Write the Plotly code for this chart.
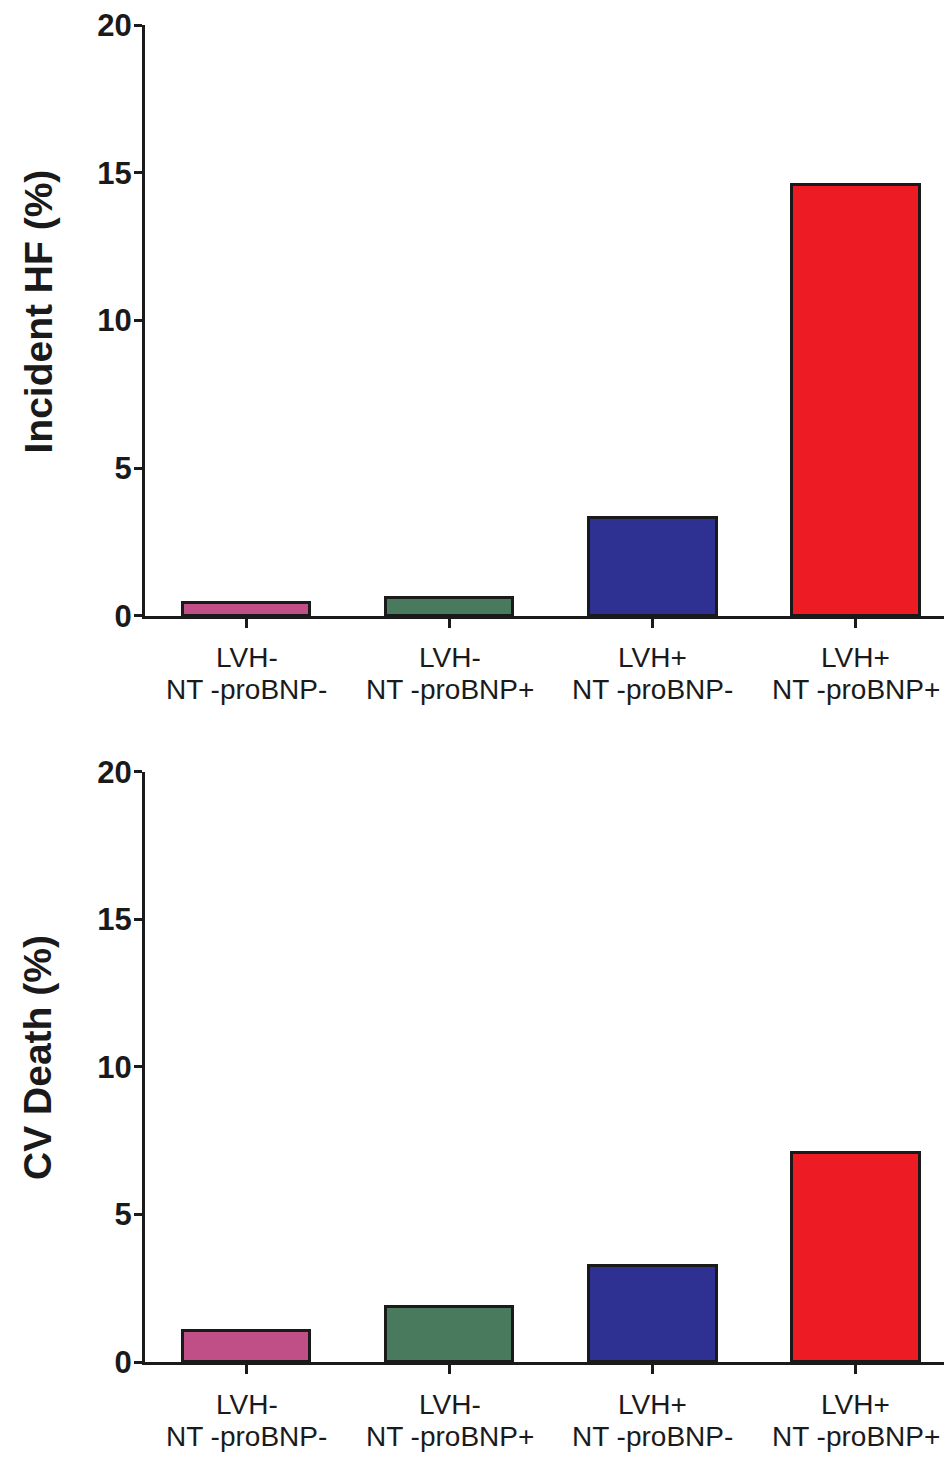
import plotly.graph_objects as go
from plotly.subplots import make_subplots

line1 = ["LVH-", "LVH-", "LVH+", "LVH+"]
line2 = ["NT -proBNP-", "NT -proBNP+", "NT -proBNP-", "NT -proBNP+"]
incident_hf = [0.43, 0.62, 3.33, 14.57]
cv_death = [1.06, 1.85, 3.27, 7.09]
bar_colors = ["#C04F87", "#4A7A5E", "#2E3192", "#ED1C24"]
y_titles = ["Incident HF (%)", "CV Death (%)"]
y_ticks = [0, 5, 10, 15, 20]

FONT = "Liberation Sans, Arial, Helvetica, sans-serif"
TXT = "#1a1a1a"

fig = make_subplots(rows=2, cols=1, vertical_spacing=0.1167)
xs = list(range(len(line1)))
for r, vals in enumerate([incident_hf, cv_death], start=1):
    fig.add_trace(go.Bar(x=xs, y=vals, width=0.63,
                         marker=dict(color=bar_colors, line=dict(color="#1a1a1a", width=3)),
                         showlegend=False), row=r, col=1)

fig.update_layout(
    width=944, height=1449,
    margin=dict(l=137, r=0, t=17, b=95),
    paper_bgcolor="white", plot_bgcolor="white",
    font=dict(family=FONT, color=TXT),
    bargap=0,
)
fig.update_layout(
    yaxis=dict(domain=[0.558, 1.0]),
    yaxis2=dict(domain=[0.0, 0.4413]),
)
fig.update_xaxes(range=[-0.5, 3.475], tickvals=xs, ticktext=["", "", "", ""],
                 showline=True, linecolor="#1a1a1a", linewidth=3,
                 ticks="outside", ticklen=9, tickwidth=2.5, tickcolor="#1a1a1a",
                 showgrid=False, zeroline=False, fixedrange=True)
fig.update_yaxes(range=[0, 20], tickvals=y_ticks,
                 showline=True, linecolor="#1a1a1a", linewidth=3,
                 ticks="outside", ticklen=8, tickwidth=2.5, tickcolor="#1a1a1a",
                 tickfont=dict(family=FONT, size=31, color=TXT, weight="bold"),
                 ticklabelstandoff=-4, ticklabeloverflow="allow",
                 showgrid=False, zeroline=False)

for i, (xa, ya) in enumerate([("x", "y"), ("x2", "y2")]):
    for k in xs:
        fig.add_annotation(x=k, xref=xa, y=0, yref=f"{ya} domain",
                           text=line1[k], showarrow=False, yanchor="middle",
                           yshift=-42, font=dict(family=FONT, size=28, color=TXT))
        fig.add_annotation(x=k, xref=xa, y=0, yref=f"{ya} domain",
                           text=line2[k], showarrow=False, yanchor="middle",
                           yshift=-74, font=dict(family=FONT, size=28, color=TXT))
    fig.add_annotation(x=0, xref="paper", xanchor="center", xshift=-107,
                       y=0.5, yref=f"{ya} domain", yshift=9,
                       text=y_titles[i], textangle=-90, showarrow=False,
                       font=dict(family=FONT, size=39, color=TXT, weight="bold"))

fig.write_html("out.html")
